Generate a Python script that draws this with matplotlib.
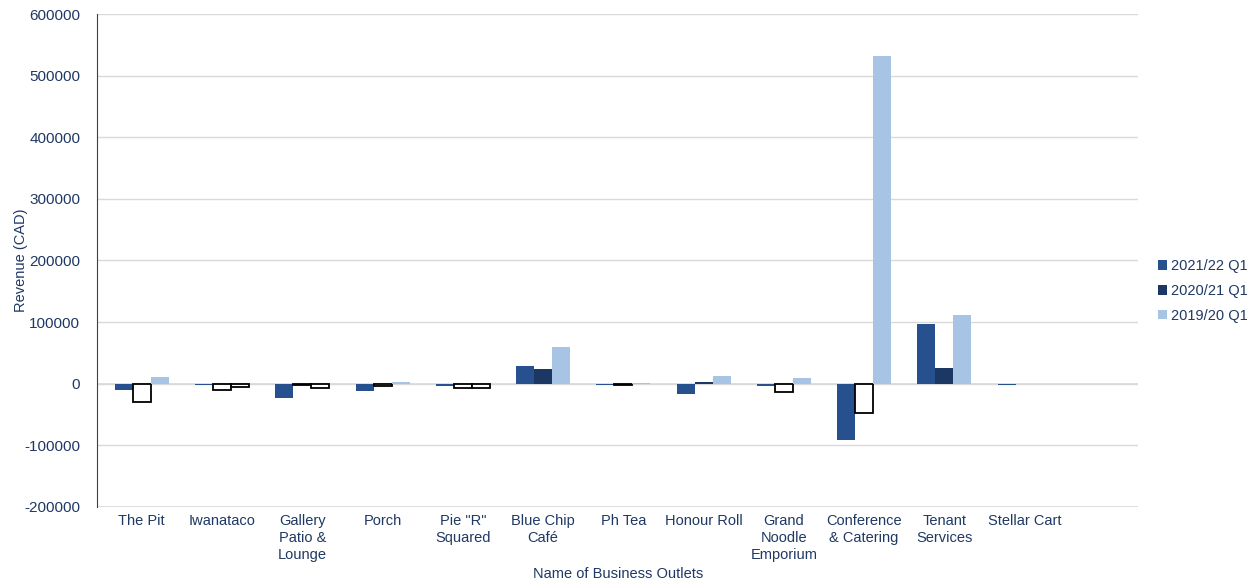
import numpy as np
import matplotlib
matplotlib.use("Agg")
from matplotlib import pyplot as plt

plt.rcParams['font.family'] = ['Liberation Sans', 'DejaVu Sans']
plt.rcParams['axes.unicode_minus'] = False

outlets = ["The Pit", "Iwanataco", "Gallery\nPatio &\nLounge", "Porch", 'Pie "R"\nSquared',
           "Blue Chip\nCafé", "Ph Tea", "Honour Roll", "Grand\nNoodle\nEmporium",
           "Conference\n& Catering", "Tenant\nServices", "Stellar Cart"]
q1_2122 = [-11000, -2000, -23000, -12500, -4500, 29000, -1500, -17000, -4000, -91000, 97000, -2000]
q1_2021 = [-30000, -11000, -2000, -4000, -7000, 24000, -2500, 2000, -13000, -47500, 26000, 0]
q1_1920 = [11000, -6000, -7500, 2000, -7500, 59500, 1500, 13000, 9500, 532000, 112000, 0]

series = ["2021/22 Q1", "2020/21 Q1", "2019/20 Q1"]
colors = ["#26508E", "#1B3864", "#A8C4E5"]
text_col = "#1F3864"

fig = plt.figure(figsize=(12.58, 5.88), dpi=100)
ax = fig.add_axes([0.077, 0.138, 0.828, 0.838])

x = np.arange(len(outlets))
w = 0.224
for i, (vals, name, c) in enumerate(zip([q1_2122, q1_2021, q1_1920], series, colors)):
    vals = np.array(vals)
    pos = x + (i - 1) * w
    if i == 0:
        ax.bar(pos, vals, w, color=c, label=name, zorder=3)
    else:
        # invert if negative: white fill with black outline
        fc = [c if v >= 0 else "white" for v in vals]
        ec = [c if v >= 0 else "black" for v in vals]
        lw = [0 if v >= 0 else 1.3 for v in vals]
        ax.bar(pos, vals, w, color=fc, edgecolor=ec, linewidth=lw, zorder=3)
        ax.bar([np.nan], [0], w, color=c, label=name)

ax.set_xlim(-0.56, 12.42)
ax.set_ylim(-200000, 600000)
ax.set_yticks(np.arange(-200000, 600001, 100000))
ax.grid(axis='y', color="#D9D9D9", linewidth=1, zorder=0)
ax.set_axisbelow(True)
for s in ["top", "right", "bottom"]:
    ax.spines[s].set_visible(False)
ax.spines["left"].set_color("#404040")
ax.axhline(-200000, color="#D9D9D9", linewidth=1.2, zorder=1)
ax.axhline(0, color="#D9D9D9", linewidth=1.2, zorder=1)

ax.set_xticks(x)
ax.set_xticklabels(outlets, fontsize=10.5, color=text_col, va="top", linespacing=1.3)
ax.tick_params(axis='x', length=0, pad=5)
ax.tick_params(axis='y', length=0, labelsize=11, colors=text_col, pad=12)

ax.set_ylabel("Revenue (CAD)", fontsize=10.5, color=text_col)
ax.yaxis.set_label_coords(-0.066, 0.5)
ax.set_xlabel("Name of Business Outlets", fontsize=10.5, color=text_col, labelpad=3)

leg = ax.legend(loc="center left", bbox_to_anchor=(1.013, 0.438), frameon=False,
                fontsize=10.5, handlelength=0.6, handleheight=0.6, handletextpad=0.3,
                labelspacing=0.75, borderaxespad=0)
for t in leg.get_texts():
    t.set_color(text_col)

fig.savefig("out.png", dpi=100)
